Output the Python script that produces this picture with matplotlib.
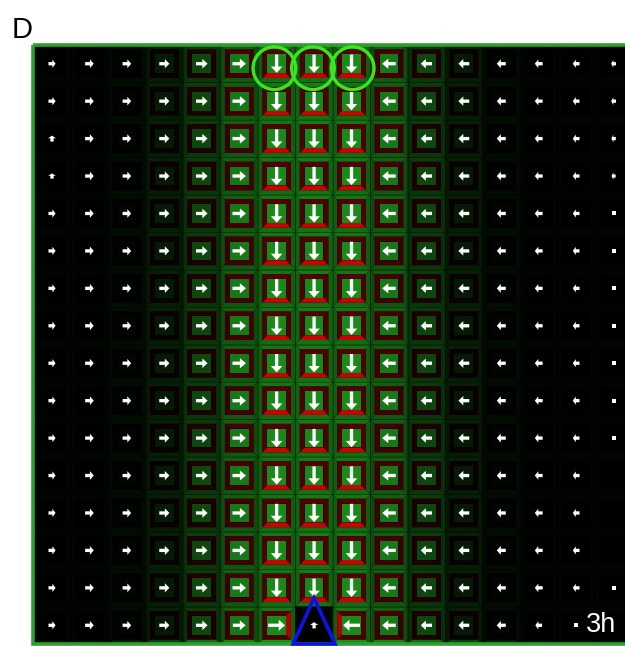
import matplotlib
matplotlib.use("Agg")
import matplotlib.pyplot as plt
from matplotlib.patches import Polygon, Circle, Rectangle
from matplotlib.collections import PatchCollection

plt.rcParams['font.family'] = ['Liberation Sans', 'DejaVu Sans']

n_rows = 16
n_cols = 16

# cytoplasm auxin (green level) per column
auxin_col = [0.0, 0.0, 0.02, 0.10, 0.28, 0.47, 0.54, 0.54, 0.54, 0.47, 0.28, 0.10, 0.02, 0.0, 0.0, 0.0]
# cell wall auxin per column
wall_col = [0.02, 0.02, 0.05, 0.12, 0.23, 0.37, 0.46, 0.48, 0.46, 0.37, 0.23, 0.12, 0.05, 0.02, 0.02, 0.02]
# outer wall along the bottom edge of the last row
wall_bottom_edge = [0.06, 0.06, 0.12, 0.28, 0.45, 0.55, 0.6, 0.05, 0.6, 0.55, 0.45, 0.28, 0.12, 0.06, 0.06, 0.06]

# PIN (red level) on each membrane side, per column
pin_top_col = [0.0, 0.0, 0.0, 0.04, 0.12, 0.27, 0.32, 0.32, 0.32, 0.27, 0.12, 0.04, 0.0, 0.0, 0.0, 0.0]
pin_bottom_col = [0.0, 0.0, 0.0, 0.04, 0.12, 0.27, 0.85, 0.85, 0.85, 0.27, 0.12, 0.04, 0.0, 0.0, 0.0, 0.0]
pin_left_col = [0.0, 0.0, 0.0, 0.04, 0.12, 0.27, 0.37, 0.37, 0.37, 0.32, 0.12, 0.04, 0.0, 0.0, 0.0, 0.0]
pin_right_col = [0.0, 0.0, 0.0, 0.04, 0.12, 0.32, 0.37, 0.37, 0.37, 0.27, 0.12, 0.04, 0.0, 0.0, 0.0, 0.0]

# bottom row cells around the sink: (col, auxin, pin top, right, bottom, left)
sink_row_cells = [
    (6, 0.54, 0.3, 0.85, 0.3, 0.37),
    (7, 0.0, 0.0, 0.0, 0.0, 0.0),
    (8, 0.54, 0.3, 0.37, 0.3, 0.85),
]

# net flux arrow length and direction per column
flux_col = [0.19, 0.23, 0.23, 0.27, 0.31, 0.36, 0.49, 0.49, 0.49, 0.36, 0.30, 0.29, 0.24, 0.21, 0.18, 0.13]
flux_dir = ['r'] * 6 + ['d'] * 3 + ['l'] * 7
# last column flux per row
flux_last_col = [0.13, 0.13, 0.12, 0.11, 0.04, 0.04, 0.04, 0.04, 0.04, 0.04, 0.04, 0.0, 0.0, 0.0, 0.04, 0.0]
# single-cell exceptions: (row, col, length, direction)
flux_exceptions = [
    (2, 0, 0.16, 'u'),
    (3, 0, 0.14, 'u'),
    (15, 5, 0.34, 'r'),
    (15, 6, 0.45, 'r'),
    (15, 7, 0.17, 'u'),
    (15, 8, 0.45, 'l'),
    (15, 13, 0.18, 'l'),
    (15, 14, 0.04, 'l'),
]

dir_vec = {'r': (1, 0), 'l': (-1, 0), 'd': (0, 1), 'u': (0, -1)}

fig = plt.figure(figsize=(6.25, 6.46), dpi=100)
ax = fig.add_axes([33.3 / 625, 2 / 646, 599 / 625, 599 / 646])
ax.set_xlim(0, n_cols)
ax.set_ylim(n_rows, 0)
ax.axis('off')
ax.add_patch(Rectangle((0, 0), n_cols, n_rows, fc='black', ec='none', zorder=0))

h_out, h_mem, h_in = 0.5, 0.38, 0.25
shade = {'top': 1.0, 'bottom': 0.92, 'left': 0.8, 'right': 0.8}


def side_poly(cx, cy, ho, hi, side):
    if side == 'top':
        return [(cx - ho, cy - ho), (cx + ho, cy - ho), (cx + hi, cy - hi), (cx - hi, cy - hi)]
    if side == 'bottom':
        return [(cx - ho, cy + ho), (cx + ho, cy + ho), (cx + hi, cy + hi), (cx - hi, cy + hi)]
    if side == 'left':
        return [(cx - ho, cy - ho), (cx - ho, cy + ho), (cx - hi, cy + hi), (cx - hi, cy - hi)]
    return [(cx + ho, cy - ho), (cx + ho, cy + ho), (cx + hi, cy + hi), (cx + hi, cy - hi)]


def green(v):
    return (min(1, 0.18 * v), min(1, v), min(1, 0.18 * v))


def red(v):
    return (min(1, v), 0.02 * v, 0.02 * v)


sink = {c: vals for c, *vals in sink_row_cells}

patches, colors = [], []
for r in range(n_rows):
    for c in range(n_cols):
        cx, cy = c + 0.5, r + 0.5
        a = auxin_col[c]
        pins = {'top': pin_top_col[c], 'right': pin_right_col[c],
                'bottom': pin_bottom_col[c], 'left': pin_left_col[c]}
        walls = {s: wall_col[c] for s in shade}
        if r == n_rows - 1:
            walls['bottom'] = wall_bottom_edge[c]
            if c in sink:
                a, pt, pr, pb, pl = sink[c]
                pins = {'top': pt, 'right': pr, 'bottom': pb, 'left': pl}
                if c == 7:
                    walls = {s: 0.03 for s in shade}
        for s in shade:
            patches.append(Polygon(side_poly(cx, cy, h_out, h_mem, s)))
            colors.append(green(walls[s] * shade[s]))
            patches.append(Polygon(side_poly(cx, cy, h_mem, h_in, s)))
            colors.append(red(pins[s] * shade[s]))
        patches.append(Rectangle((cx - h_in, cy - h_in), 2 * h_in, 2 * h_in))
        colors.append(green(a))

ax.add_collection(PatchCollection(patches, facecolors=colors, edgecolors='none', zorder=1))

# faint seams between cells
for k in range(1, n_cols):
    ax.plot([k, k], [0, n_rows], color='black', lw=0.6, alpha=0.35, zorder=2)
for k in range(1, n_rows):
    ax.plot([0, n_cols], [k, k], color='black', lw=0.6, alpha=0.35, zorder=2)

# flux arrows
flux = {}
for r in range(n_rows):
    for c in range(n_cols):
        length = flux_last_col[r] if c == n_cols - 1 else flux_col[c]
        flux[(r, c)] = (length, flux_dir[c])
for r, c, length, d in flux_exceptions:
    flux[(r, c)] = (length, d)

for (r, c), (length, d) in flux.items():
    cx, cy = c + 0.5, r + 0.5
    if length <= 0:
        continue
    if length < 0.06:
        ax.plot(cx, cy, 's', color='white', ms=2.8, mew=0, zorder=4)
        continue
    ux, uy = dir_vec[d]
    hl = min(0.45 * length, 0.17)
    hw = 0.17 + 0.28 * length
    ax.arrow(cx - ux * length / 2, cy - uy * length / 2, ux * length, uy * length,
             width=0.088, head_width=hw, head_length=hl, length_includes_head=True,
             fc='white', ec='none', zorder=4)

# outer border of the tissue
ax.add_patch(Rectangle((0, 0), n_cols, n_rows, fill=False, ec='#2f9e2f', lw=2.6,
                       zorder=5, clip_on=False))

# marked cells in the first row
for cx in [6.44, 7.47, 8.53]:
    ax.add_patch(Circle((cx, 0.62), 0.57, fill=False, ec='#3ae61e', lw=2.4, zorder=6))

# sink triangle
ax.add_patch(Polygon([(6.94, 16.0), (8.06, 16.0), (7.5, 14.77)], closed=True,
                     fill=False, ec='#0a14e6', lw=2.6, zorder=6, clip_on=False))

fig.text(12 / 625, 1 - 38 / 646, 'D', fontsize=21, ha='left', va='baseline')
fig.text(586 / 625, 1 - 632 / 646, '3h', fontsize=19.5, color='white', ha='left',
         va='baseline', zorder=7)

fig.savefig('out.png', dpi=100)
